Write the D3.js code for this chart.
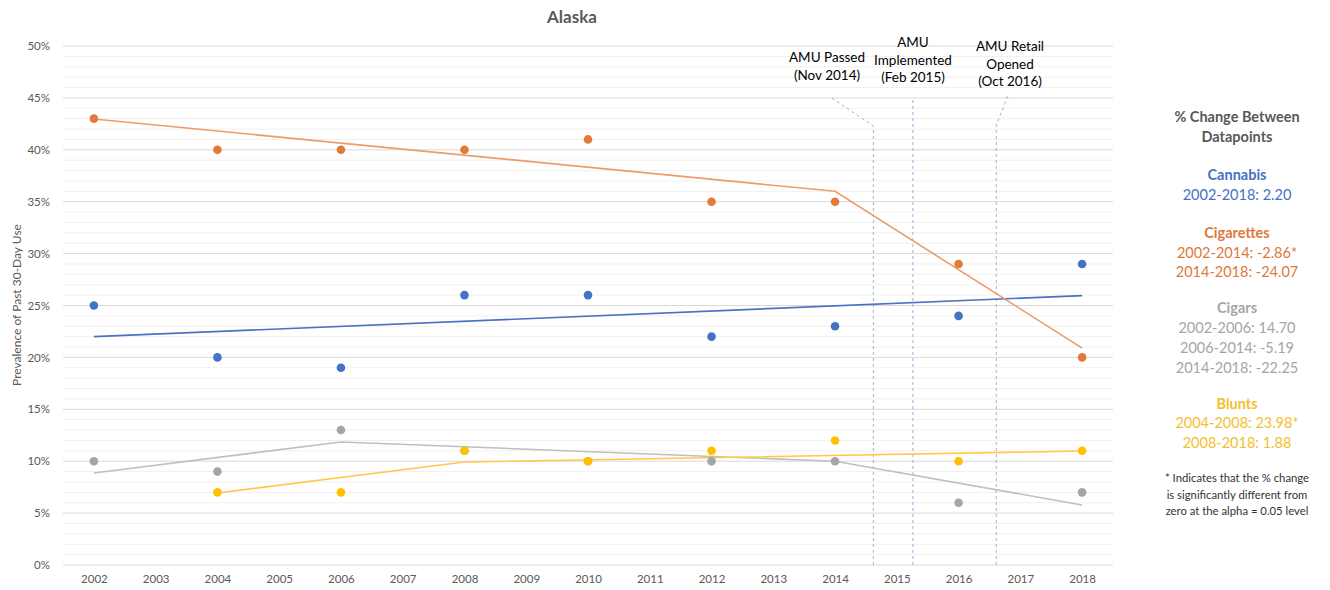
<!DOCTYPE html>
<html><head><meta charset="utf-8">
<script src="https://cdn.jsdelivr.net/npm/d3@7"></script>
<style>body{margin:0;background:#fff;font-family:Lato,"Open Sans",sans-serif;}</style>
</head><body><svg id="c" width="1330" height="590"></svg>
<script>
const years = [2002,2003,2004,2005,2006,2007,2008,2009,2010,2011,2012,2013,2014,2015,2016,2017,2018];
const pointYears = [2002,2004,2006,2008,2010,2012,2014,2016,2018];
const cannabis   = [25,20,19,26,26,22,23,24,29];
const cigarettes = [43,40,40,40,41,35,35,29,20];
const cigars     = [10,9,13,11,10,10,10,6,7];
const blunts     = [null,7,7,11,10,11,12,10,11];
const cannabisTrend   = [[2002,22.0],[2018,25.95]];
const cigarettesTrend = [[2002,42.97],[2014,36.0],[2018,20.9]];
const cigarsTrend     = [[2002,8.86],[2006,11.85],[2014,10.0],[2018,5.78]];
const bluntsTrend     = [[2004,6.94],[2008,9.92],[2018,10.98]];
const yTicks = [0,5,10,15,20,25,30,35,40,45,50];
const events = [
  {x:2014.62, lines:["AMU Passed","(Nov 2014)"]},
  {x:2015.26, lines:["AMU","Implemented","(Feb 2015)"]},
  {x:2016.61, lines:["AMU Retail","Opened","(Oct 2016)"]}
];
const legend = [
  {t:"% Change Between", c:"#595959", b:true},
  {t:"Datapoints", c:"#595959", b:true},
  {t:"Cannabis", c:"#4472C4", b:true, gap:18.5},
  {t:"2002-2018: 2.20", c:"#4472C4"},
  {t:"Cigarettes", c:"#E0783A", b:true, gap:18.5},
  {t:"2002-2014: -2.86*", c:"#E0783A"},
  {t:"2014-2018: -24.07", c:"#E0783A"},
  {t:"Cigars", c:"#A5A5A5", b:true, gap:16.5},
  {t:"2002-2006: 14.70", c:"#A5A5A5"},
  {t:"2006-2014: -5.19", c:"#A5A5A5"},
  {t:"2014-2018: -22.25", c:"#A5A5A5"},
  {t:"Blunts", c:"#F5BE2E", b:true, gap:16.5},
  {t:"2004-2008: 23.98*", c:"#F5BE2E"},
  {t:"2008-2018: 1.88", c:"#F5BE2E"}
];
const footnote = ["* Indicates that the % change","is significantly different from","zero at the alpha = 0.05 level"];

const svg = d3.select("#c");
const x = d3.scaleLinear().domain([2001.5,2018.5]).range([63,1113]);
const y = d3.scaleLinear().domain([0,50]).range([565,46]);

const g = svg.append("g");
g.selectAll("line.minor").data(d3.range(1,50).filter(v=>v%5!==0)).join("line")
  .attr("x1",63).attr("x2",1113).attr("y1",d=>y(d)).attr("y2",d=>y(d))
  .attr("stroke","#f0f0f0").attr("stroke-width",1);
g.selectAll("line.major").data(yTicks).join("line")
  .attr("x1",63).attr("x2",1113).attr("y1",d=>y(d)).attr("y2",d=>y(d))
  .attr("stroke","#d9d9d9").attr("stroke-width",1);

const ya = svg.append("g").attr("transform","translate(53,0)")
  .call(d3.axisLeft(y).tickValues(yTicks).tickSize(0).tickFormat(d=>d+"%"));
ya.select(".domain").remove();
ya.selectAll("text").attr("fill","#595959").style("font-size","11.5px").style("font-family","Lato,sans-serif").attr("dx",0);

const xa = svg.append("g").attr("transform","translate(0,572)")
  .call(d3.axisBottom(x).tickValues(years).tickSize(0).tickFormat(d3.format("d")));
xa.select(".domain").remove();
xa.selectAll("text").attr("fill","#595959").style("font-size","11.5px").style("font-family","Lato,sans-serif");

const ev = svg.append("g").attr("stroke","#9fb0dd").attr("stroke-width",1).attr("stroke-dasharray","3,3").attr("fill","none");
ev.append("path").attr("d",`M${x(events[0].x)},565 V126 L832,98`);
ev.append("path").attr("d",`M${x(events[1].x)},565 V98`);
ev.append("path").attr("d",`M${x(events[2].x)},565 V125 L1009,93`);
const evText = [{cx:827, y0:62},{cx:913, y0:47},{cx:1010, y0:51}];
events.forEach((e,i)=>{
  svg.append("g").selectAll("text").data(e.lines).join("text")
    .attr("x",evText[i].cx).attr("y",(d,j)=>evText[i].y0+j*17.5)
    .attr("text-anchor","middle").attr("fill","#000").style("font-size","13.5px").text(d=>d);
});

const line = d3.line().x(d=>x(d[0])).y(d=>y(d[1]));
const trends = [
  {d:cigarsTrend, c:"#BFBFBF"},
  {d:bluntsTrend, c:"#FFC84A"},
  {d:cannabisTrend, c:"#4A72C0"},
  {d:cigarettesTrend, c:"#EE9B66"}
];
svg.append("g").selectAll("path").data(trends).join("path")
  .attr("d",d=>line(d.d)).attr("fill","none").attr("stroke",d=>d.c).attr("stroke-width",1.6);

const series = [
  {v:cigars, c:"#A5A5A5"},
  {v:blunts, c:"#FFC000"},
  {v:cannabis, c:"#4472C4"},
  {v:cigarettes, c:"#E07B39"}
];
series.forEach(s=>{
  svg.append("g").selectAll("circle").data(pointYears.map((yr,i)=>[yr,s.v[i]]).filter(d=>d[1]!=null)).join("circle")
    .attr("cx",d=>x(d[0])).attr("cy",d=>y(d[1])).attr("r",4.3).attr("fill",s.c);
});

svg.append("text").attr("x",572).attr("y",23).attr("text-anchor","middle")
  .attr("fill","#595959").style("font-size","17px").style("font-weight","bold").text("Alaska");
svg.append("text").attr("transform","translate(21,305) rotate(-90)").attr("text-anchor","middle")
  .attr("fill","#595959").style("font-size","12px").text("Prevalence of Past 30-Day Use");

let ly = 122;
const lg = svg.append("g");
legend.forEach((l,i)=>{
  if(i>0) ly += 19.7 + (l.gap||0);
  lg.append("text").attr("x",1237).attr("y",ly).attr("text-anchor","middle")
    .attr("fill",l.c).style("font-size","14.5px").style("font-weight",l.b?"bold":"normal").text(l.t);
});
svg.append("g").selectAll("text").data(footnote).join("text")
  .attr("x",1237).attr("y",(d,i)=>482+i*16.5).attr("text-anchor","middle")
  .attr("fill","#333").style("font-size","11.3px").text(d=>d);
</script></body></html>
